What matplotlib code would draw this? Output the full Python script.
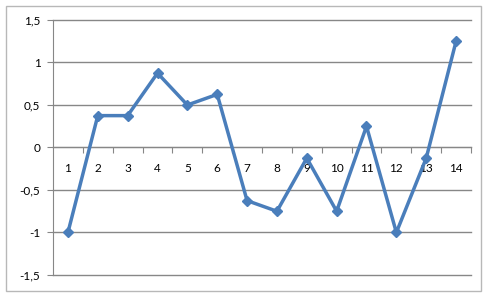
import matplotlib
matplotlib.use('Agg')
import matplotlib.pyplot as plt
import matplotlib.ticker as ticker
from matplotlib.patches import Rectangle

categories = list(range(1, 15))
values = [-1, 0.375, 0.375, 0.875, 0.5, 0.625, -0.625, -0.75, -0.125, -0.75, 0.25, -1, -0.125, 1.25]
y_ticks = [-1.5, -1, -0.5, 0, 0.5, 1, 1.5]

plt.rcParams['font.family'] = ['Lato', 'DejaVu Sans']

fig = plt.figure(figsize=(4.88, 2.98), dpi=100)
fig.patch.set_facecolor('white')
fig.patches.append(Rectangle((6 / 488, 1 - 291 / 298), 475 / 488, 285 / 298,
                             transform=fig.transFigure, fill=False,
                             edgecolor='#b8b8b8', linewidth=1))

ax = fig.add_axes([53 / 488, 1 - 275 / 298, 418 / 488, 255 / 298])
grey = '#878787'

ax.plot(categories, values, color='#4a7ebb', linewidth=2.5, marker='D',
        markersize=5.5, markeredgecolor='#4a7ebb', zorder=3)

ax.set_xlim(0.5, 14.5)
ax.set_ylim(-1.5, 1.5)

ax.set_yticks(y_ticks)
ax.yaxis.set_major_formatter(ticker.FuncFormatter(
    lambda v, p: f'{v:g}'.replace('.', ',')))
ax.yaxis.grid(True, color=grey, linewidth=1)
for gl in ax.get_ygridlines():
    gl.set_clip_on(False)
ax.tick_params(axis='y', direction='out', length=4, color=grey,
               labelsize=8.5, pad=5)

# category axis crosses at zero
ax.spines['bottom'].set_position(('data', 0))
ax.spines['bottom'].set_color(grey)
ax.spines['left'].set_color(grey)
ax.spines['top'].set_visible(False)
ax.spines['right'].set_visible(False)

ax.set_xticks([c + 0.5 for c in categories])
ax.set_xticklabels([])
ax.set_xticks(categories, minor=True)
ax.set_xticklabels([str(c) for c in categories], minor=True)
ax.tick_params(axis='x', which='major', direction='out', length=4, color=grey)
ax.tick_params(axis='x', which='minor', length=0, labelsize=8.5, pad=11)

fig.savefig('out.png', dpi=100)
